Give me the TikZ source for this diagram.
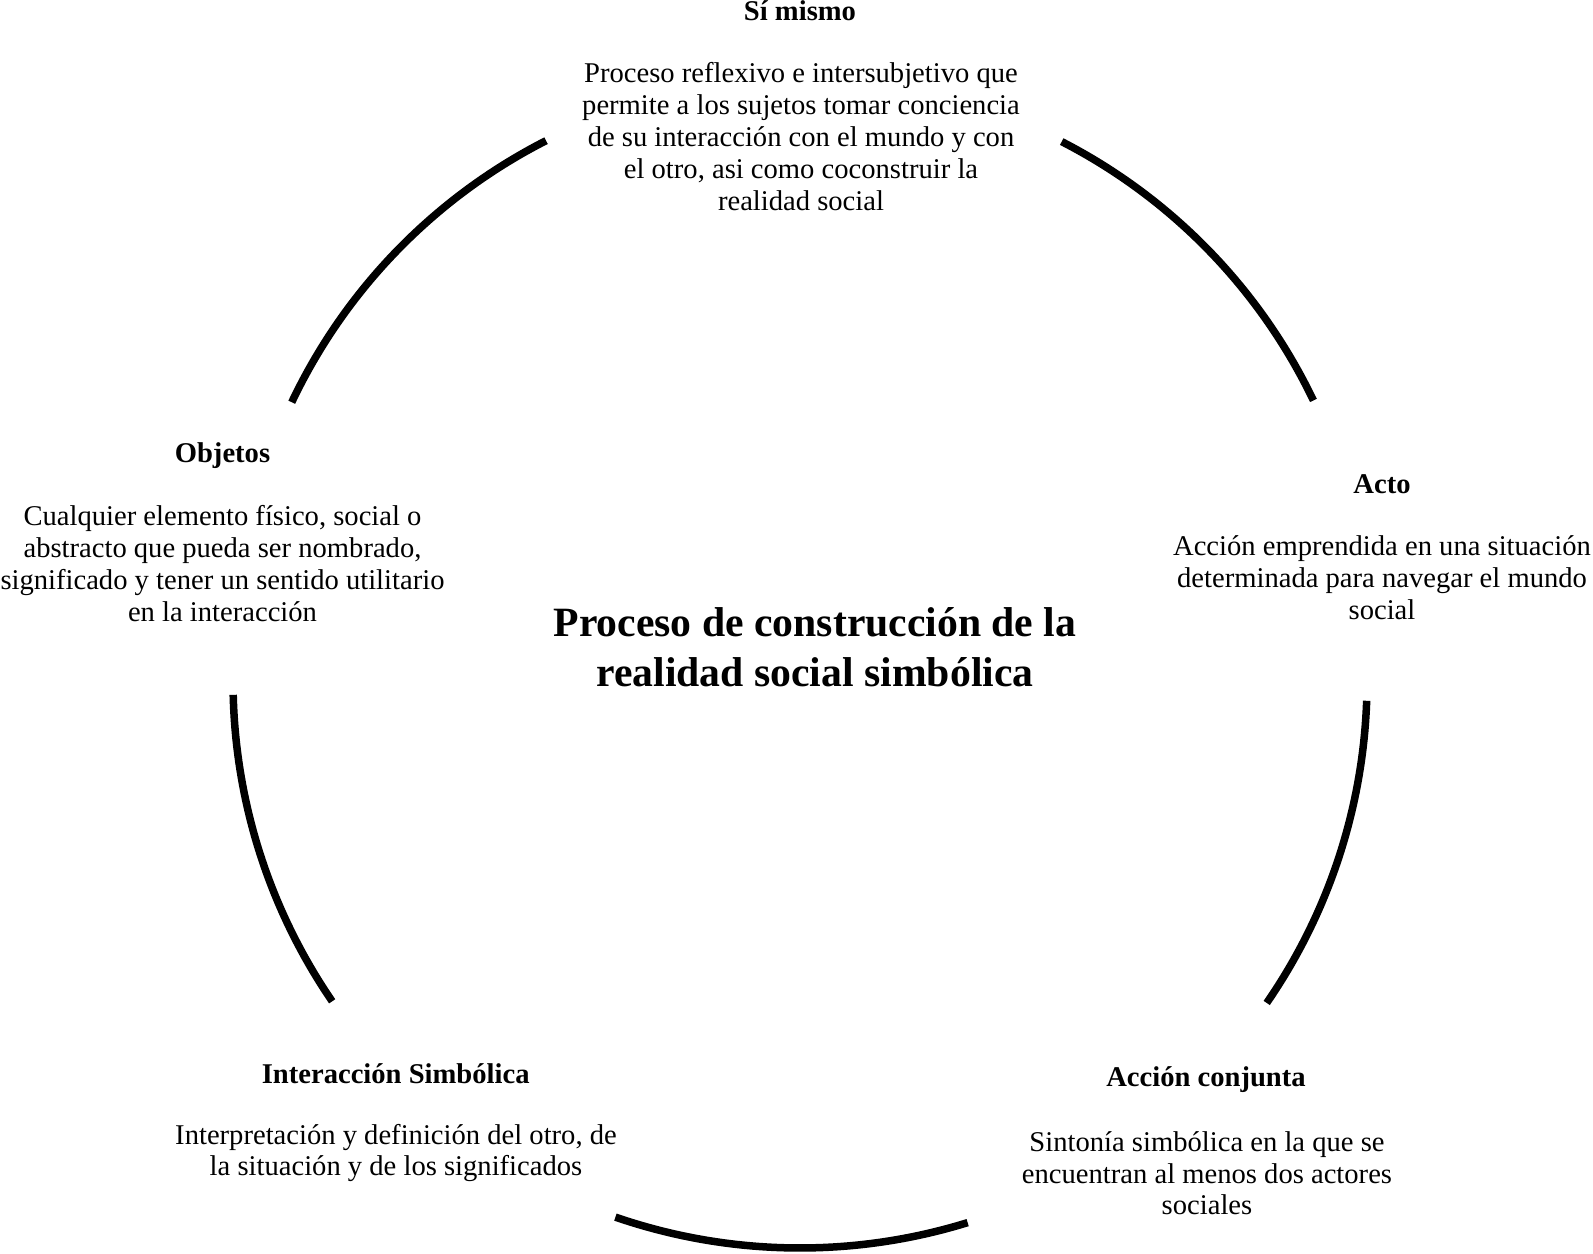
\documentclass[tikz,border=0pt]{standalone}
\usepackage{fontspec}
\setmainfont{Liberation Serif}
\begin{document}
\begin{tikzpicture}[x=1pt,y=1pt,
  ring/.style={line width=7.5pt, black},
  head/.style={font=\fontsize{28.6}{31.5}\selectfont\bfseries, inner sep=0pt, anchor=base},
  body/.style={font=\fontsize{28.6}{31.8}\selectfont, align=center, inner sep=0pt},
  maintitle/.style={font=\fontsize{41.7}{50}\selectfont\bfseries, align=center, inner sep=0pt}]
\useasboundingbox (0,0) rectangle (1593,1253);
\fill[white] (0,0) rectangle (1593,1253);
\coordinate (cu) at (803,608);
\coordinate (cl) at (800,572);
% arcs
\draw[ring] (cu) ++(154.6:566) arc[start angle=154.6,end angle=117,radius=566];
\draw[ring] (cu) ++(62.8:566) arc[start angle=62.8,end angle=25.6,radius=566];
\draw[ring] (cl) ++(-2:567) arc[start angle=-2,end angle=-34.6,radius=567];
\draw[ring] (cl) ++(-72.8:567) arc[start angle=-72.8,end angle=-109,radius=567];
\draw[ring] (cl) ++(181.4:567) arc[start angle=181.4,end angle=214.4,radius=567];
% title
\node[maintitle] (title) at (815,606) {Proceso de construcción de la\\realidad social simbólica};
% Si mismo
\node[head] (h1) at (800,1232) {Sí mismo};
\node[body] (b1) at (801,1116.4) {Proceso reflexivo e intersubjetivo que\\permite a los sujetos tomar conciencia\\de su interacción con el mundo y con\\el otro, asi como coconstruir la\\realidad social};
% Acto
\node[head] (h2) at (1382,759.8) {Acto};
\node[body] (b2) at (1382,675) {Acción emprendida en una situación\\determinada para navegar el mundo\\social};
% Accion conjunta
\node[head] (h3) at (1206,166.5) {Acción conjunta};
\node[body] (b3) at (1207,79.75) {Sintonía simbólica en la que se\\encuentran al menos dos actores\\sociales};
% Interaccion simbolica
\node[head] (h4) at (395.7,169.5) {Interacción Simbólica};
\node[body] (b4) at (396,100) {Interpretación y definición del otro, de\\la situación y de los significados};
% Objetos
\node[head] (h5) at (222.5,790) {Objetos};
\node[body] (b5) at (222.5,689.3) {Cualquier elemento físico, social o\\abstracto que pueda ser nombrado,\\significado y tener un sentido utilitario\\en la interacción};
\end{tikzpicture}
\end{document}
